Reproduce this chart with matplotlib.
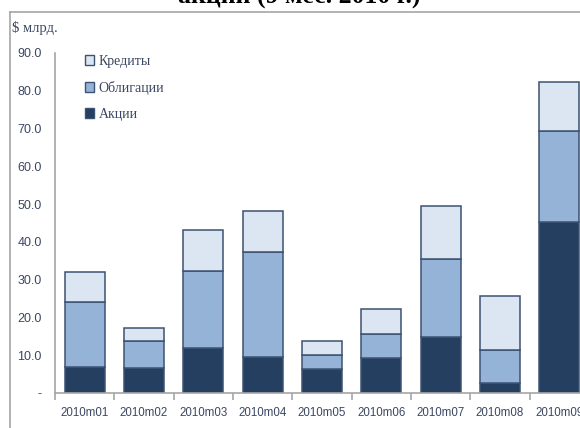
import numpy as np
import matplotlib.pyplot as plt
from matplotlib.lines import Line2D
from matplotlib.patches import Patch

months = ['2010m01', '2010m02', '2010m03', '2010m04', '2010m05',
          '2010m06', '2010m07', '2010m08', '2010m09']
stocks = [6.8, 6.5, 12.0, 9.5, 6.3, 9.3, 14.9, 2.7, 45.2]   # Акции
bonds = [17.4, 7.2, 20.3, 27.7, 3.8, 6.2, 20.5, 8.7, 24.2]  # Облигации
loans = [7.8, 3.6, 10.8, 11.1, 3.7, 6.8, 14.1, 14.4, 12.9]  # Кредиты
yticks = [0, 10, 20, 30, 40, 50, 60, 70, 80, 90]
ytick_labels = ['-', '10.0', '20.0', '30.0', '40.0', '50.0', '60.0', '70.0', '80.0', '90.0']

c_stocks = '#243f60'
c_bonds = '#95b3d7'
c_loans = '#dce6f2'
c_edge = '#3c5272'
c_text = '#3b4762'
c_axis = '#a6a6a6'

sans = ['Liberation Sans', 'DejaVu Sans']
serif = ['Liberation Serif', 'DejaVu Serif']

fig = plt.figure(figsize=(5.8, 4.28), dpi=100)
W, H = 580, 428

# frame around the chart area (continues past the right/bottom edge)
fig.add_artist(Line2D([10 / W, 10 / W], [1 - 12 / H, 0], color=c_axis, lw=1.2,
                      transform=fig.transFigure))
fig.add_artist(Line2D([10 / W, 1], [1 - 12 / H, 1 - 12 / H], color=c_axis, lw=1.2,
                      transform=fig.transFigure))

# title, mostly above the visible area
fig.text(299 / W, 1 - 4 / H, 'акции (9 мес. 2010 г.)', ha='center', va='baseline',
         fontsize=18.5, fontweight='bold', family=serif, color='black')

ax = fig.add_axes([55 / W, 1 - 393 / H, 534 / W, 340 / H])

x = np.arange(len(months))
w = 0.675
bottom2 = np.array(stocks)
bottom3 = bottom2 + np.array(bonds)
ax.bar(x, stocks, w, color=c_stocks, edgecolor=c_edge, lw=1.1)
ax.bar(x, bonds, w, bottom=bottom2, color=c_bonds, edgecolor=c_edge, lw=1.1)
ax.bar(x, loans, w, bottom=bottom3, color=c_loans, edgecolor=c_edge, lw=1.1)

ax.set_xlim(-0.5, len(months) - 0.5)
ax.set_ylim(0, 90)

for side in ['top', 'right']:
    ax.spines[side].set_visible(False)
for side in ['left', 'bottom']:
    ax.spines[side].set_color(c_axis)
    ax.spines[side].set_linewidth(1.2)

ax.set_yticks(yticks)
ax.set_yticklabels(ytick_labels, family=sans, fontsize=9, color=c_text)
ax.tick_params(axis='y', length=0, pad=9.5)

ax.set_xticks(x)
ax.set_xticklabels(months, family=sans, fontsize=8.3, color=c_text)
ax.tick_params(axis='x', length=0, pad=10)
ax.set_xticks(np.arange(len(months) + 1) - 0.5, minor=True)
ax.tick_params(axis='x', which='minor', length=5, color=c_axis, width=1.2)

fig.text(12 / W, 1 - 28 / H, '$ млрд.', ha='left', va='center',
         family=serif, fontsize=10.5, color=c_text)

handles = [Patch(facecolor=c_loans, edgecolor=c_edge, label='Кредиты'),
           Patch(facecolor=c_bonds, edgecolor=c_edge, label='Облигации'),
           Patch(facecolor=c_stocks, edgecolor=c_edge, label='Акции')]
fig.legend(handles=handles, loc='upper left', bbox_to_anchor=(72 / W, 1 - 42 / H),
           frameon=False, prop={'family': serif, 'size': 10},
           handlelength=0.7, handleheight=0.7, handletextpad=0.3,
           labelspacing=0.95, labelcolor=c_text)

fig.savefig('out.png', dpi=100)
